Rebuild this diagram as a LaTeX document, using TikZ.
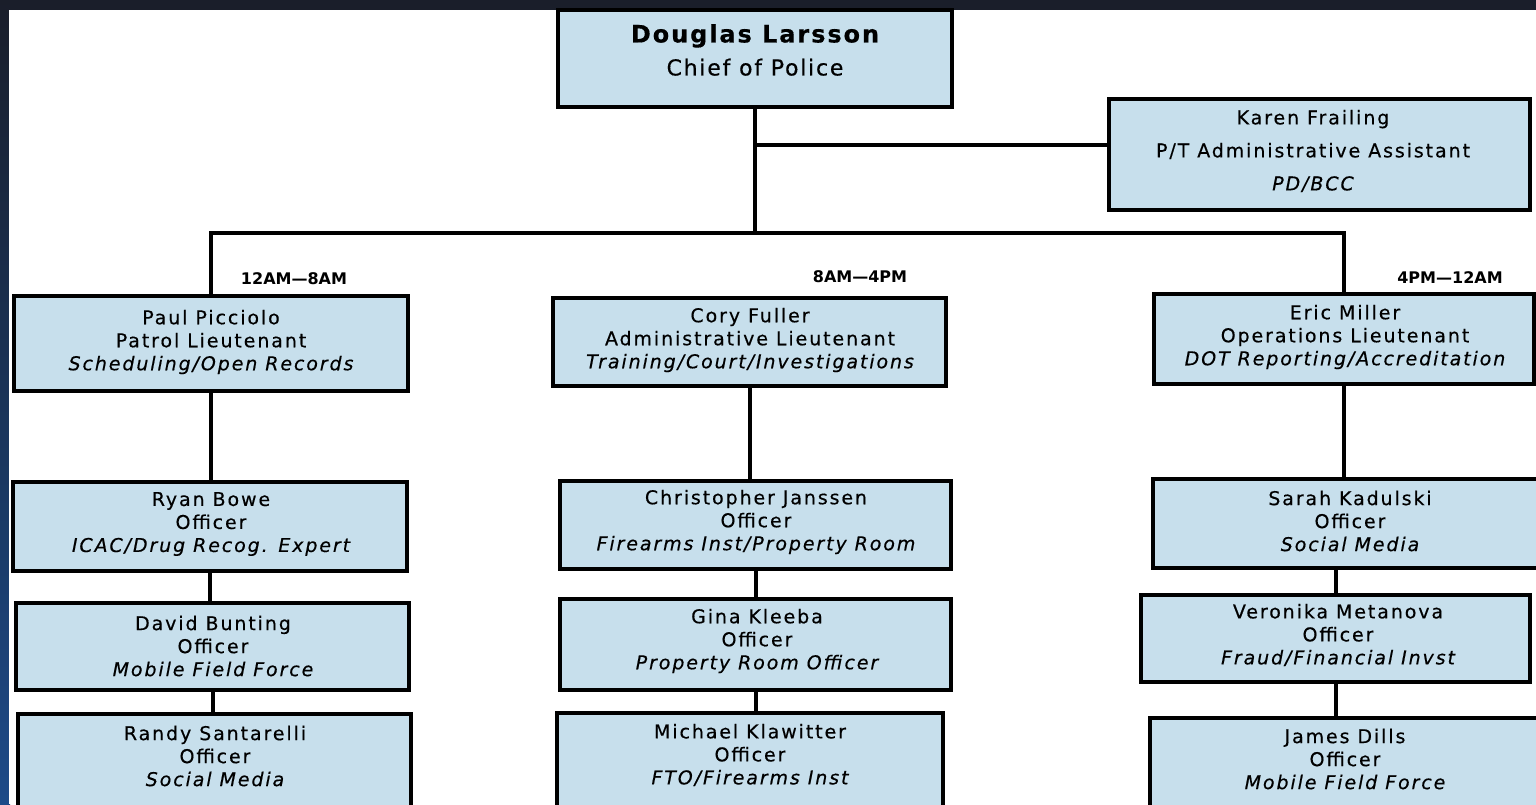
\documentclass[tikz,border=0pt]{standalone}
\usepackage{fontspec}
\newfontfamily\bx[LetterSpace=10,FakeBold=0.4]{DejaVu Sans}
\newfontfamily\bxc[LetterSpace=8,FakeBold=0.4]{DejaVu Sans}
\newfontfamily\lbf{DejaVu Sans}
\usetikzlibrary{fit}
\definecolor{boxblue}{HTML}{C7DFEC}
\definecolor{navy}{HTML}{1A1E2A}
\definecolor{deepblue}{HTML}{1C4A88}
\tikzset{
  box/.style={draw=black, line width=4pt, fill=boxblue, inner sep=0pt},
  txt/.style={align=center, font=\bx\fontsize{19}{23}\selectfont, inner sep=0pt},
  conn/.style={line width=4pt, draw=black, line cap=rect},
  shiftlbl/.style={font=\lbf\bfseries\fontsize{16}{18}\selectfont, inner sep=0pt}
}
\begin{document}
\begin{tikzpicture}[x=1pt,y=-1pt]
\useasboundingbox (0,0) rectangle (1536,804);
\clip (0,0) rectangle (1536,804);
% background
\fill[navy] (0,0) rectangle (1536,804);
\shade[top color=navy, bottom color=deepblue] (0,0) rectangle (10,804);
\fill[white] (9,10) rectangle (1536,804);

% boxes
\node[box, fit={(558,10) (952,107)}] (chief) {};
\node[box, fit={(1109,99) (1530,210)}] (karen) {};
\node[box, fit={(14,296) (408,391)}] (paul) {};
\node[box, fit={(553,298) (946,386)}] (cory) {};
\node[box, fit={(1154,294) (1534,384)}] (eric) {};
\node[box, fit={(13,482) (407,571)}] (ryan) {};
\node[box, fit={(16,603) (409,690)}] (david) {};
\node[box, fit={(18,714) (411,840)}] (randy) {};
\node[box, fit={(560,481) (951,569)}] (chris) {};
\node[box, fit={(560,599) (951,690)}] (gina) {};
\node[box, fit={(557,713) (943,840)}] (michael) {};
\node[box, fit={(1153,479) (1550,568)}] (sarah) {};
\node[box, fit={(1141,595) (1530,682)}] (veronika) {};
\node[box, fit={(1150,718) (1550,840)}] (james) {};

% texts
\node[txt, font=\bxc\fontsize{22}{33}\selectfont] (chief-t) at (755,50)
  {{\bfseries\fontsize{24}{33}\selectfont Douglas Larsson}\\Chief of Police};
\node[txt, font=\bx\fontsize{19}{33}\selectfont] (karen-t) at (1313,151)
  {Karen Frailing\\P/T Administrative Assistant\\\itshape PD/BCC};
\node[txt] (paul-t) at (211,342) {Paul Picciolo\\Patrol Lieutenant\\\itshape Scheduling/Open Records};
\node[txt] (cory-t) at (750,340) {Cory Fuller\\Administrative Lieutenant\\\itshape Training/Court/Investigations};
\node[txt] (eric-t) at (1345,337) {Eric Miller\\Operations Lieutenant\\\itshape DOT Reporting/Accreditation};
\node[txt] (ryan-t) at (211,524) {Ryan Bowe\\Officer\\\itshape ICAC/Drug Recog. Expert};
\node[txt] (david-t) at (213,646) {David Bunting\\Officer\\\itshape Mobile Field Force};
\node[txt] (randy-t) at (215,756) {Randy Santarelli\\Officer\\\itshape Social Media};
\node[txt] (chris-t) at (756,522) {Christopher Janssen\\Officer\\\itshape Firearms Inst/Property Room};
\node[txt] (gina-t) at (757,641) {Gina Kleeba\\Officer\\\itshape Property Room Officer};
\node[txt] (michael-t) at (750,755) {Michael Klawitter\\Officer\\\itshape FTO/Firearms Inst};
\node[txt] (sarah-t) at (1350,521) {Sarah Kadulski\\Officer\\\itshape Social Media};
\node[txt] (veronika-t) at (1338,635) {Veronika Metanova\\Officer\\\itshape Fraud/Financial Invst};
\node[txt] (james-t) at (1345,759) {James Dills\\Officer\\\itshape Mobile Field Force};

% shift labels
\node[shiftlbl] (s1) at (294,279) {12AM—8AM};
\node[shiftlbl] (s2) at (860,277) {8AM—4PM};
\node[shiftlbl] (s3) at (1450,278) {4PM—12AM};

% connectors
\coordinate (busL) at (211,233);
\coordinate (kj) at (755,145);
\draw[conn] (chief.south) -- (chief.south |- busL);
\draw[conn] (kj) -- (kj -| karen.west);
\draw[conn] (paul.north) -- (paul.north |- busL) -- (eric.north |- busL) -- (eric.north);
\draw[conn] (paul.south) -- (paul.south |- ryan.north);
\draw[conn] (ryan.south) -- (ryan.south |- david.north);
\draw[conn] (david.south) -- (david.south |- randy.north);
\draw[conn] (cory.south) -- (cory.south |- chris.north);
\draw[conn] (chris.south) -- (chris.south |- gina.north);
\draw[conn] (gina.south) -- (gina.south |- michael.north);
\draw[conn] (eric.south) -- (eric.south |- sarah.north);
\draw[conn] (veronika.north) -- (veronika.north |- sarah.south);
\draw[conn] (veronika.south) -- (veronika.south |- james.north);
\end{tikzpicture}
\end{document}
